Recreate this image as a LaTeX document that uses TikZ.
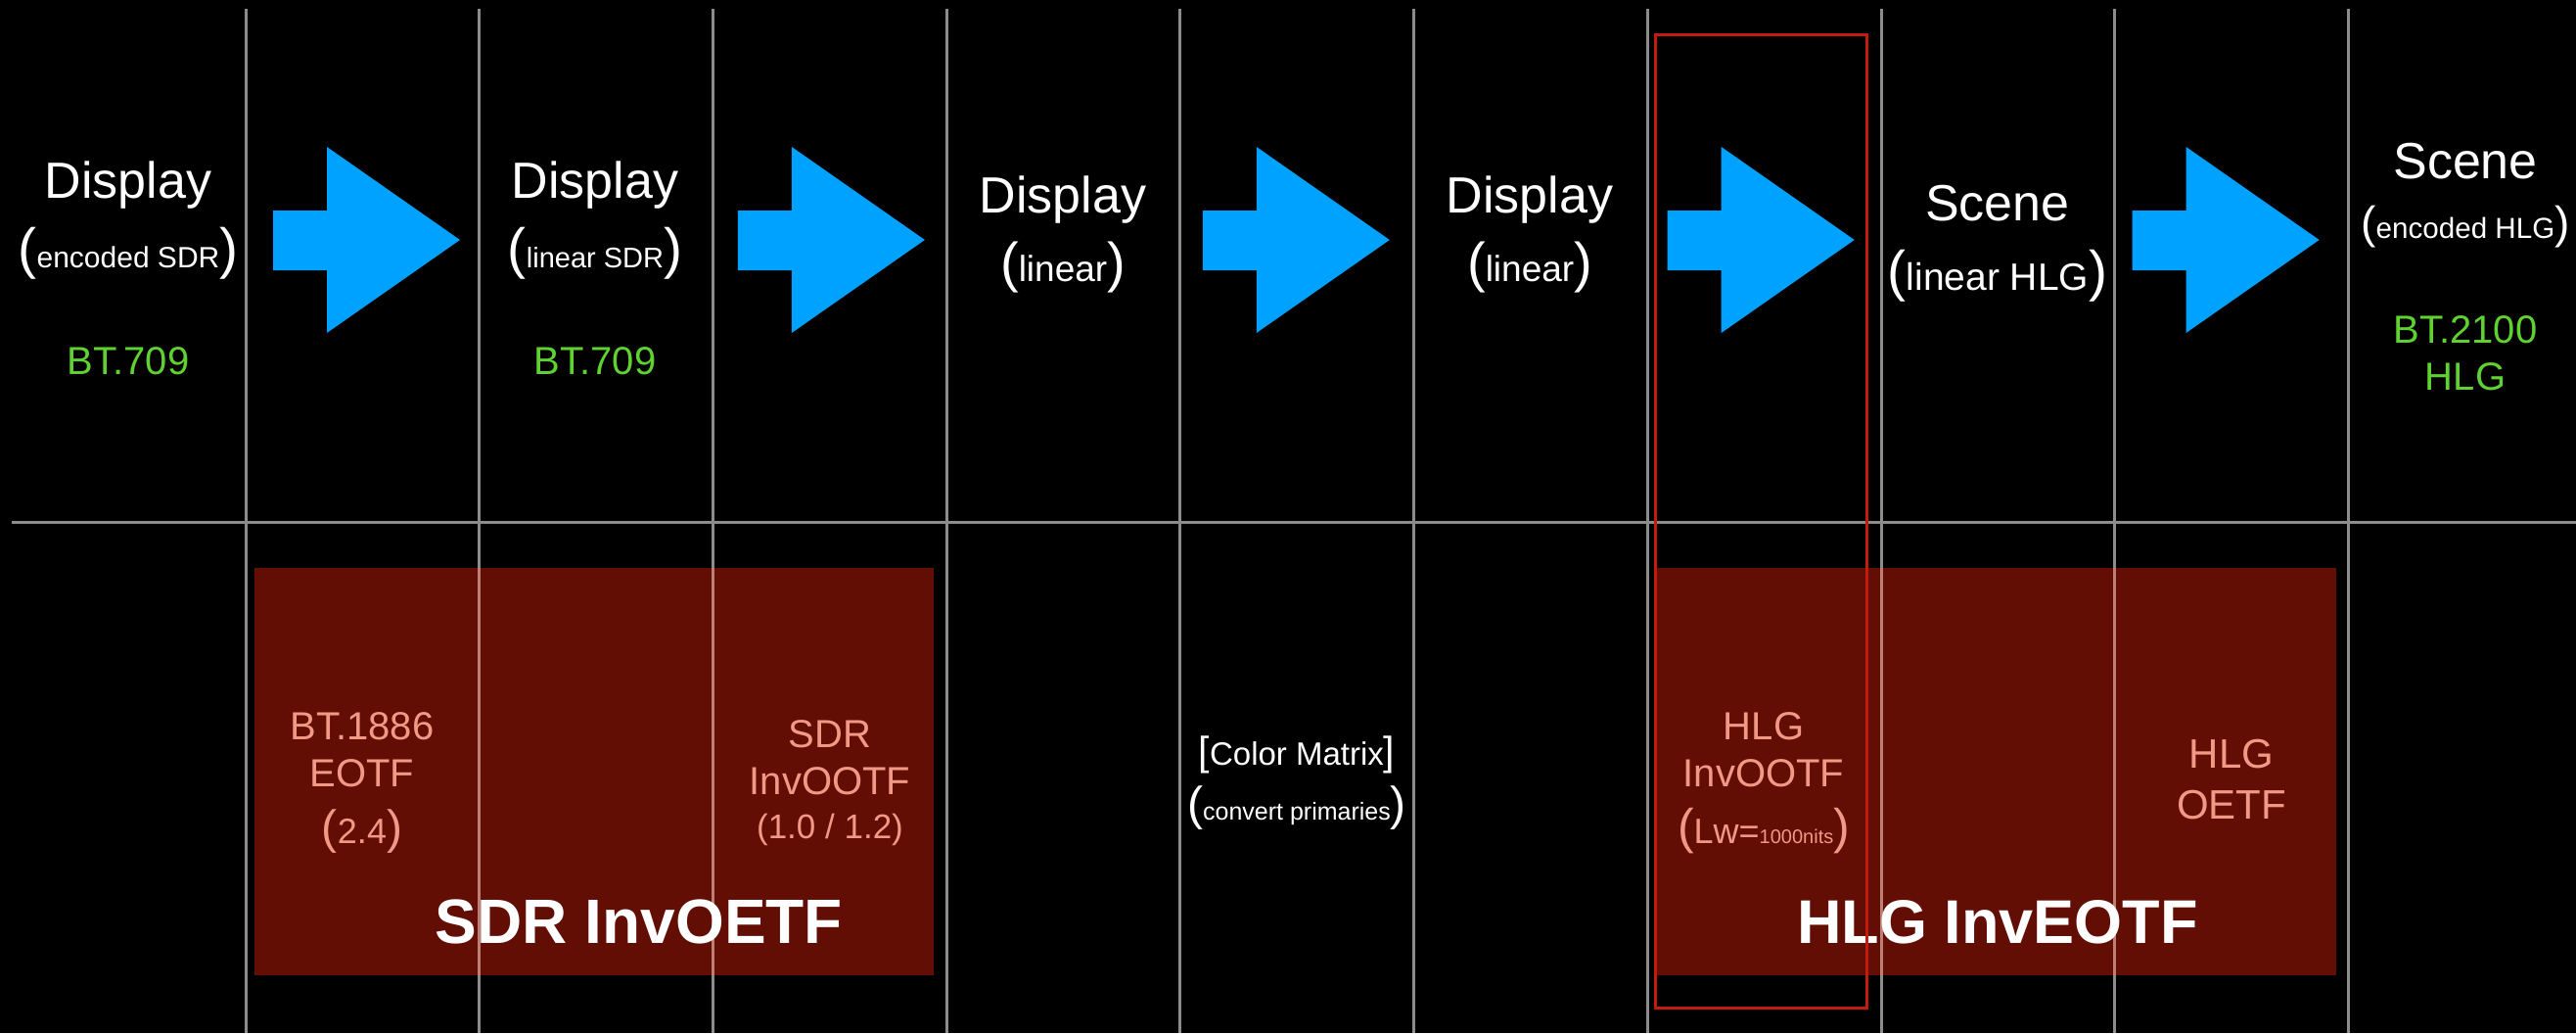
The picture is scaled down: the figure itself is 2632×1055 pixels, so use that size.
\documentclass[tikz,border=0pt]{standalone}
\usepackage{fontspec}
\setmainfont{Liberation Sans}
\definecolor{gridgray}{RGB}{140,140,140}
\definecolor{gridpink}{RGB}{190,128,118}
\definecolor{arrowblue}{RGB}{0,162,255}
\definecolor{labgreen}{RGB}{95,210,50}
\definecolor{salmon}{RGB}{242,152,134}
\definecolor{boxred}{RGB}{98,14,5}
\definecolor{outred}{RGB}{196,28,10}
\newcommand\fsz[1]{\fontsize{#1pt}{#1pt}\selectfont}
\begin{document}
\begin{tikzpicture}[x=0.5pt,y=-0.5pt,
  txt/.style={anchor=base,inner sep=0pt,text=white},
  grn/.style={anchor=base,inner sep=0pt,text=labgreen,font=\fsz{20}},
  sal/.style={anchor=base,inner sep=0pt,text=salmon,font=\fsz{20}},
  big/.style={anchor=base,inner sep=0pt,text=white,font=\bfseries\fsz{32}},
  gridline/.style={draw=gridgray,line width=1.5pt},
  arrowshape/.style={fill=arrowblue},
  groupbox/.style={fill=boxred},
  focus/.style={draw=outred,line width=1.5pt}]
\fill[black] (0,0) rectangle (2632,1055);
\useasboundingbox (0,0) rectangle (2632,1055);
% grid
\foreach \x in {251,489,728,967,1205,1444,1683,1922,2160,2399}
  \draw[gridline] (\x,9) -- (\x,1055);
\draw[gridline] (12,533) -- (2632,533);
% group boxes
\fill[groupbox] (260,580) rectangle (954,996);
\fill[groupbox] (1691,580) rectangle (2387,996);
\begin{scope}
  \clip (260,580) rectangle (954,996) (1691,580) rectangle (2387,996);
  \foreach \x in {251,489,728,967,1205,1444,1683,1922,2160,2399}
    \draw[draw=gridpink,line width=1.5pt] (\x,9) -- (\x,1055);
\end{scope}
% arrows
\foreach \k in {0,...,4}{
  \pgfmathsetmacro\xa{279+474.9*\k}
  \fill[arrowshape] (\xa,215) -- (\xa+55,215) -- (\xa+55,150) -- (\xa+191,245)
     -- (\xa+55,340) -- (\xa+55,276) -- (\xa,276) -- cycle;
}
% top row
\node[txt,font=\fsz{26}] (d0) at (131,202) {Display};
\node[txt] (d0s) at (131,273) {\fsz{28.5}(\fsz{15}encoded SDR\fsz{28.5})};
\node[grn] (g0) at (131,382) {BT.709};

\node[txt,font=\fsz{26}] (d2) at (608,202) {Display};
\node[txt] (d2s) at (608,273) {\fsz{28.5}(\fsz{14.5}linear SDR\fsz{28.5})};
\node[grn] (g2) at (608,382) {BT.709};

\node[txt,font=\fsz{26}] (d4) at (1086,217) {Display};
\node[txt] (d4s) at (1086,287) {\fsz{28}(\fsz{18.5}linear\fsz{28})};

\node[txt,font=\fsz{26}] (d6) at (1563,217) {Display};
\node[txt] (d6s) at (1563,287) {\fsz{28}(\fsz{18.5}linear\fsz{28})};

\node[txt,font=\fsz{26}] (s8) at (2041,225) {Scene};
\node[txt] (s8s) at (2041,296) {\fsz{28.5}(\fsz{19.5}linear HLG\fsz{28.5})};

\node[txt,font=\fsz{26}] (s10) at (2519,182) {Scene};
\node[txt] (s10s) at (2519,243) {\fsz{23}(\fsz{14.8}encoded HLG\fsz{23})};
\node[grn] (g10a) at (2519,350) {BT.2100};
\node[grn] (g10b) at (2519,398) {HLG};

% bottom row
\node[sal] (b1a) at (370,755) {BT.1886};
\node[sal] (b1b) at (370,803) {EOTF};
\node[sal] (b1c) at (370,861) {\fsz{24}(\fsz{18}2.4\fsz{24})};

\node[sal] (b3a) at (848,763) {SDR};
\node[sal] (b3b) at (848,811.6) {InvOOTF};
\node[sal] (b3c) at (848,856) {\fsz{17.5}(1.0 / 1.2)};

\node[txt] (cm1) at (1325,781) {\fsz{20.5}[\fsz{16.5}Color Matrix\fsz{20.5}]};
\node[txt] (cm2) at (1325,837) {\fsz{24}(\fsz{12.5}convert primaries\fsz{24})};

\node[sal] (b7a) at (1802,755) {HLG};
\node[sal] (b7b) at (1802,803) {InvOOTF};
\node[sal] (b7c) at (1802,861) {\fsz{25}(\fsz{18}Lw=\fsz{10}1000nits\fsz{25})};

\node[sal,font=\fsz{21}] (b9a) at (2280,784) {HLG};
\node[sal,font=\fsz{21}] (b9b) at (2280,836.5) {OETF};

\node[big] (sdrinv) at (653,963) {SDR InvOETF};
\node[big,font=\bfseries\fsz{31.5}] (hlginv) at (2041,963) {HLG InvEOTF};

% focus outline
\draw[focus] (1691,35) rectangle (1907,1029);
\end{tikzpicture}
\end{document}
